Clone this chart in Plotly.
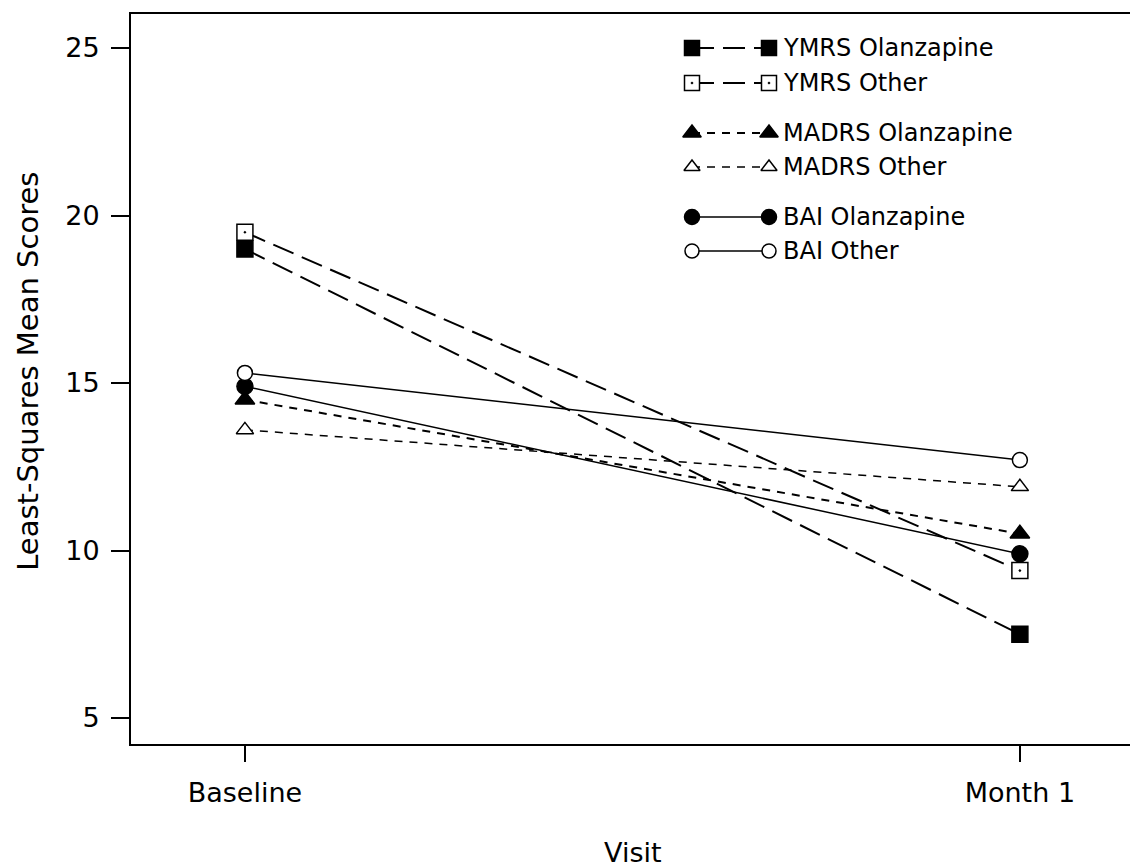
import plotly.graph_objects as go

visits = ["Baseline", "Month 1"]
series_names = ["YMRS Olanzapine", "YMRS Other", "MADRS Olanzapine", "MADRS Other", "BAI Olanzapine", "BAI Other"]
ymrs_olanzapine = [19.0, 7.5]
ymrs_other = [19.5, 9.4]
madrs_olanzapine = [14.5, 10.5]
madrs_other = [13.6, 11.9]
bai_olanzapine = [14.9, 9.9]
bai_other = [15.3, 12.7]
y_ticks = [5, 10, 15, 20, 25]

values = [ymrs_olanzapine, ymrs_other, madrs_olanzapine, madrs_other, bai_olanzapine, bai_other]

long_dash = "22px,9px"
short_dash = "8px,7px"
styles = [
    dict(symbol="square", color="black", size=16, dash=long_dash, width=2),
    dict(symbol="square-dot", color="white", size=16, dash=long_dash, width=2),
    dict(symbol="triangle-up", color="black", size=17, dash=short_dash, width=2),
    dict(symbol="triangle-up", color="white", size=15, dash=short_dash, width=1.5),
    dict(symbol="circle", color="black", size=16, dash="solid", width=1.5),
    dict(symbol="circle", color="white", size=15, dash="solid", width=1.5),
]

FONT = "DejaVu Sans, Verdana, sans-serif"
fig = go.Figure()

for name, vals, st in zip(series_names, values, styles):
    fig.add_trace(go.Scatter(
        x=visits, y=vals, mode="lines+markers", name=name,
        line=dict(color="black", width=st["width"], dash=st["dash"]),
        marker=dict(symbol=st["symbol"], size=st["size"], color=st["color"],
                    line=dict(color="black", width=1.5)),
        showlegend=False, cliponaxis=False,
    ))

# custom legend drawn on an overlay axis in pixel units
legend_rows = [48, 83, 133, 167, 217, 251]
lx0, lx1, ltext = 692, 769, 781
for name, st, ry in zip(series_names, styles, legend_rows):
    fig.add_trace(go.Scatter(
        x=[lx0, lx1], y=[ry, ry], xaxis="x2", yaxis="y2", mode="lines+markers",
        line=dict(color="black", width=st["width"], dash=st["dash"]),
        marker=dict(symbol=st["symbol"], size=st["size"] - 1, color=st["color"],
                    line=dict(color="black", width=1.5)),
        showlegend=False, hoverinfo="skip", cliponaxis=False,
    ))
    fig.add_annotation(x=ltext, y=ry, xref="x2", yref="y2", text=name,
                       showarrow=False, xanchor="left", yanchor="middle",
                       font=dict(family=FONT, size=24, color="black"))

fig.add_annotation(x=0.4975, y=-0.148, xref="paper", yref="paper", text="Visit",
                   showarrow=False, xanchor="center", yanchor="middle",
                   font=dict(family=FONT, size=27, color="black"))
fig.add_annotation(x=-0.102, y=0.51, xref="paper", yref="paper", text="Least-Squares Mean Scores",
                   showarrow=False, xanchor="center", yanchor="middle", textangle=-90,
                   font=dict(family=FONT, size=29, color="black"))

fig.update_layout(
    width=1140, height=868,
    margin=dict(l=131, r=0, t=14, b=124),
    paper_bgcolor="white", plot_bgcolor="white",
    showlegend=False,
    xaxis=dict(
        type="category", range=[-0.147, 1.155],
        showline=True, linecolor="black", linewidth=2, mirror=True,
        ticks="outside", ticklen=16, tickwidth=2, tickcolor="black",
        ticklabelstandoff=8,
        showgrid=False, zeroline=False,
        tickfont=dict(family=FONT, size=27, color="black"),
    ),
    yaxis=dict(
        range=[4.224, 26.015], tickvals=y_ticks,
        showline=True, linecolor="black", linewidth=2,
        ticks="outside", ticklen=18, tickwidth=2, tickcolor="black",
        ticklabelstandoff=6,
        showgrid=False, zeroline=False,
        tickfont=dict(family=FONT, size=27, color="black"),
    ),
    xaxis2=dict(overlaying="x", range=[131, 1140], visible=False, fixedrange=True),
    yaxis2=dict(overlaying="y", range=[744, 14], visible=False, fixedrange=True),
)

fig.write_html("out.html", config={"displayModeBar": False},
               post_script="document.body.style.margin='0';document.body.style.overflow='hidden';")
